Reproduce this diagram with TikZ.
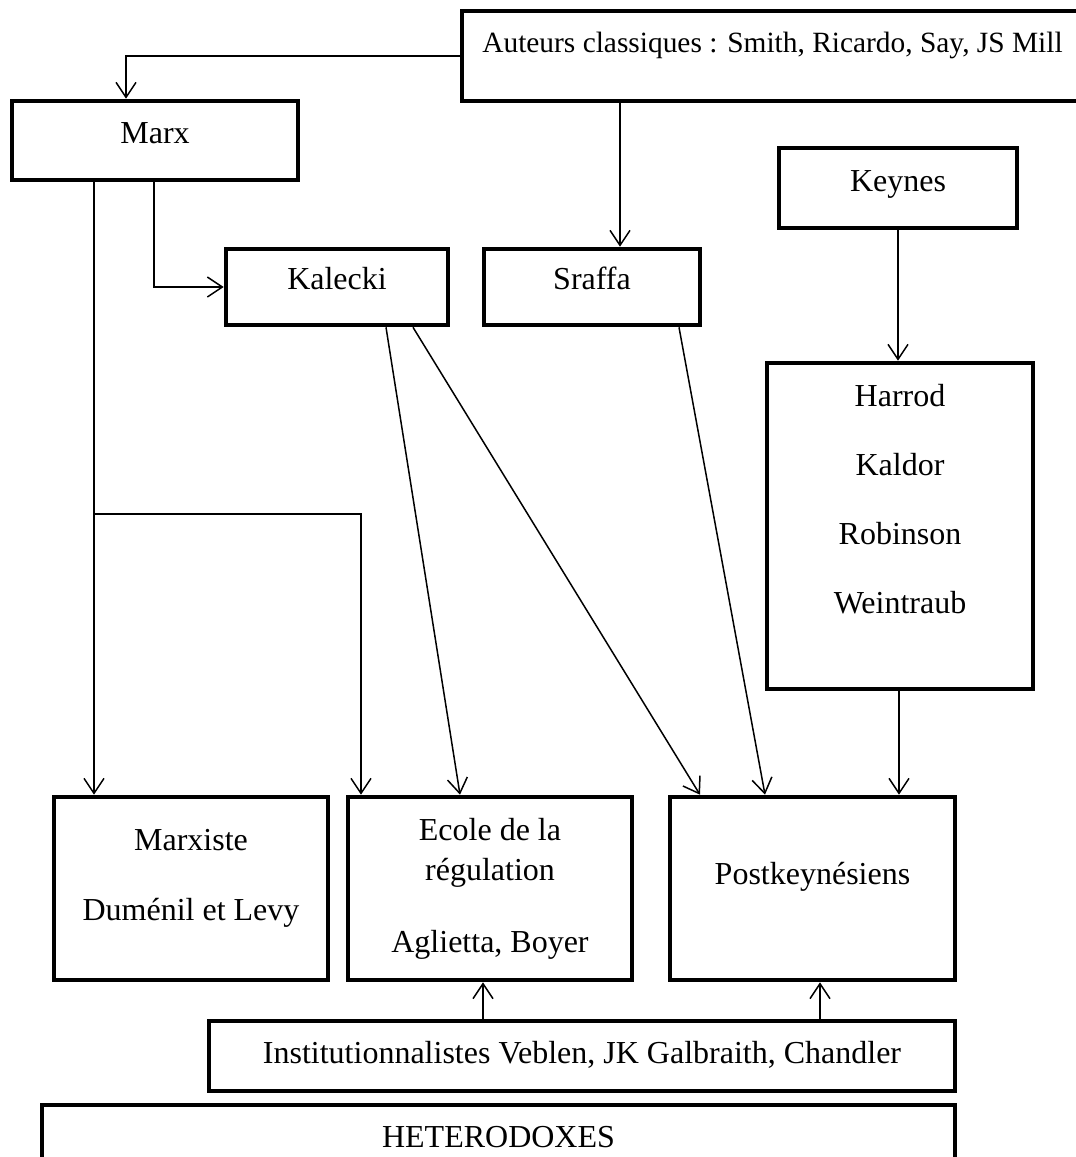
\documentclass[tikz,border=0pt]{standalone}
\usepackage{fontspec}
\setmainfont{Liberation Serif}
\usetikzlibrary{arrows.meta,calc}

\begin{document}
\begin{tikzpicture}[x=0.5pt,y=-0.5pt,
        box/.style={draw, line width=2.3pt, inner sep=0pt, align=center,
            font=\fontsize{16}{19.2}\selectfont},
        arr/.style={line width=0.75pt, -{Straight Barb[length=7.5pt,width=10pt]}}]
            \useasboundingbox (0,0) rectangle (1076,1157);

            % boxes, top row
            \node[box, minimum width=310.5pt, minimum height=45pt, text depth=14pt, font=\fontsize{14.7}{17.6}\selectfont] (aut) at (772.5,56) {Auteurs classiques : Smith, Ricardo, Say, JS Mill};
            \node[box, minimum width=143pt, minimum height=39.5pt, text depth=7.5pt] (marx) at (155,140.5) {Marx};
            \node[box, minimum width=119pt, minimum height=40pt, text depth=7pt] (keynes) at (898,188) {Keynes};
            \node[box, minimum width=111pt, minimum height=38pt, text depth=9pt] (kalecki) at (337,287) {Kalecki};
            \node[box, minimum width=108pt, minimum height=38pt, text depth=9pt] (sraffa) at (592,287) {Sraffa};
            \node[box, minimum width=133pt, minimum height=163pt] (harrod) at (900,526) {Harrod\\[15.3pt]Kaldor\\[15.3pt]Robinson\\[15.3pt]Weintraub\\[8.3pt]\mbox{}};

            % boxes, bottom row
            \node[box, minimum width=137pt, minimum height=91.5pt] (marxiste) at (191,888.5) {Marxiste\\[15.8pt]Duménil et Levy\\[-5.7pt]\mbox{}};
            \node[box, minimum width=142pt, minimum height=91.5pt] (ecole) at (490,888.5) {Ecole de la\\[0.8pt]régulation\\[16.8pt]Aglietta, Boyer};
            \node[box, minimum width=142.5pt, minimum height=91.5pt, text depth=15.5pt] (post) at (812.5,888.5) {Postkeynésiens};
            \node[box, minimum width=373pt, minimum height=35pt, text depth=4pt] (inst) at (582,1056) {Institutionnalistes Veblen, JK Galbraith, Chandler};
            \node[box, minimum width=456.5pt, minimum height=32pt] (het) at (498.5,1137) {HETERODOXES};

            % draw filiations
            \draw[arr] (aut.west) -| ($(marx.north)+(-29,0)$);
            \coordinate (sr in) at ($(sraffa.north)+(28,0)$);
            \draw[arr] (aut.south -| sr in) -- (sr in);
            \coordinate (mx in) at ($(marxiste.north)+(-97,0)$);
            \draw[arr] (marx.south -| mx in) -- (mx in);
            \coordinate (split) at (mx in |- 0,514);
            \draw[arr] (split) -| ($(ecole.north)+(-129,0)$);
            \draw[arr] ($(marx.south)+(-1,0)$) |- (kalecki.west);
            \draw[arr] (keynes.south) -- (keynes.south |- harrod.north);
            \coordinate (hp in) at ($(post.north)+(86.5,0)$);
            \draw[arr] (harrod.south -| hp in) -- (hp in);
            \draw[arr] ($(kalecki.south)+(49,0)$) -- ($(ecole.north)+(-30,0)$);
            \draw[arr] ($(kalecki.south)+(76,0)$) -- ($(post.north)+(-112.5,0)$);
            \draw[arr] ($(sraffa.south)+(87,0)$) -- ($(post.north)+(-47.5,0)$);
            \draw[arr] ($(inst.north)+(-99,0)$) -- ($(ecole.south)+(-7,0)$);
            \draw[arr] ($(inst.north)+(238,0)$) -- ($(post.south)+(7.5,0)$);
        \end{tikzpicture}
\end{document}
